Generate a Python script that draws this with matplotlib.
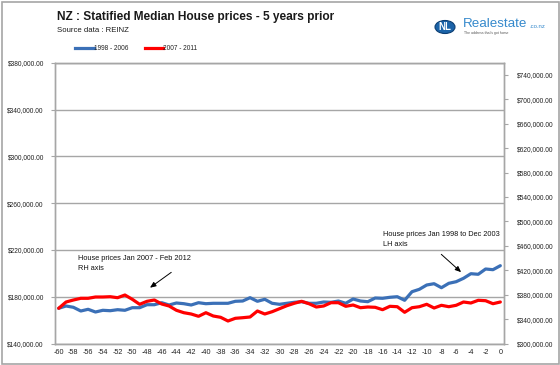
import matplotlib
matplotlib.use("Agg")
import matplotlib.pyplot as plt
from matplotlib.patches import Circle, Rectangle
from matplotlib.ticker import FuncFormatter

plt.rcParams["axes.unicode_minus"] = False

# ---- data ----
months = list(range(-60, 1))
prices_1998_2006 = [170100, 172050, 170940, 167780, 169230, 166920, 168380, 168030, 168890, 168380,
                    170600, 170600, 173160, 173160, 174870, 172910, 174620, 174020, 172910, 174870,
                    174020, 174360, 174360, 174360, 176070, 176320, 179150, 176070, 177780, 174360,
                    173500, 174360, 175210, 175730, 174360, 174360, 175470, 175210, 176320, 174360,
                    178030, 176320, 175730, 178890, 178630, 179490, 180000, 176920, 184270, 186320,
                    190000, 191110, 187690, 191450, 192820, 195730, 199660, 199150, 203680, 203080,
                    206500]
prices_2007_2011 = [357660, 367980, 371250, 374040, 374040, 376170, 376170, 376660, 375020, 379440,
                    372400, 364210, 369120, 371250, 364700, 361430, 354380, 350450, 348320, 344550,
                    350450, 345050, 342920, 336860, 341280, 342260, 343410, 353240, 348320, 352090,
                    357000, 361920, 365850, 369120, 365190, 359790, 361430, 366830, 366830, 360930,
                    363060, 358640, 359790, 359300, 355360, 360930, 360280, 351110, 358640, 360280,
                    364210, 358150, 362570, 360280, 362570, 367980, 366340, 370760, 370110, 365190,
                    367980]
left_ticks = [140000, 180000, 220000, 260000, 300000, 340000, 380000]
right_ticks = list(range(300000, 740001, 40000))
x_ticks = list(range(-60, 1, 2))
series_names = ["1998 - 2006", "2007 - 2011"]

FONT = "Liberation Sans"
W, H = 560, 365
fig = plt.figure(figsize=(W / 100, H / 100), dpi=100)
fig.patch.set_facecolor("white")

# outer border
fig.add_artist(Rectangle((1.5 / W, 1.5 / H), (W - 3) / W, (H - 3) / H, transform=fig.transFigure,
                         fill=False, edgecolor="#a6a6a6", lw=1.2))

ax = fig.add_axes([55 / W, 1 - 343.5 / H, (504 - 55) / W, (343.5 - 62.7) / H])
ax2 = ax.twinx()

blue = "#3b70b7"
red = "#ff0000"
grid = "#a6a6a6"

ax.plot(months, prices_1998_2006, color=blue, lw=2.3, solid_capstyle="round", solid_joinstyle="round", zorder=3)
ax2.plot(months, prices_2007_2011, color=red, lw=2.3, solid_capstyle="round", solid_joinstyle="round", zorder=3)

ax.set_xlim(-60.5, 0.5)
ax.set_ylim(140000, 380000)
ax2.set_ylim(300000, 760000)
ax.set_yticks(left_ticks)
ax2.set_yticks(right_ticks)
ax.set_xticks(x_ticks)

fmt = FuncFormatter(lambda v, p: "${:,.2f}".format(v))
ax.yaxis.set_major_formatter(fmt)
ax2.yaxis.set_major_formatter(fmt)

ax.grid(axis="y", color=grid, lw=1.0)
ax.set_axisbelow(True)
for a in (ax, ax2):
    for s in a.spines.values():
        s.set_color(grid)
        s.set_linewidth(1.0)
    a.tick_params(colors=grid, length=3, width=0.8, labelcolor="#222222", labelsize=4.8)
    for lab in a.get_yticklabels() + a.get_xticklabels():
        lab.set_fontfamily(FONT)
ax.tick_params(axis="x", labelsize=5.2, pad=4, length=0)
ax.tick_params(axis="y", pad=5)
ax2.tick_params(axis="y", pad=6)
ax.patch.set_visible(False)
ax2.set_zorder(ax.get_zorder() + 1)
ax2.patch.set_visible(False)

# annotations
ax.annotate("", xy=(-47.9, 186300), xytext=(-44.4, 202200),
            arrowprops=dict(arrowstyle="-|>,head_length=0.35,head_width=0.15", color="black", lw=0.7))
ax.text(-57.4, 208200, "House prices Jan 2007 - Feb 2012\nRH axis", fontsize=5.3, family=FONT,
        ha="left", va="center", linespacing=1.6, color="#111111")
ax.annotate("", xy=(-5.05, 199400), xytext=(-8.3, 217800),
            arrowprops=dict(arrowstyle="-|>,head_length=0.35,head_width=0.15", color="black", lw=0.7))
ax.text(-15.9, 229300, "House prices Jan 1998 to Dec 2003\nLH axis", fontsize=5.3, family=FONT,
        ha="left", va="center", linespacing=1.6, color="#111111")

# title and subtitle
fig.text(57 / W, 1 - 17 / H, "NZ : Statified Median House prices - 5 years prior", fontsize=8.6,
         fontweight="bold", family=FONT, ha="left", va="center", color="#1a1a1a")
fig.text(57 / W, 1 - 31 / H, "Source data : REINZ", fontsize=5.6, family=FONT, ha="left", va="center",
         color="#1a1a1a")

# legend
fig.add_artist(plt.Line2D([75 / W, 94 / W], [1 - 48 / H] * 2, color=blue, lw=2.3, transform=fig.transFigure))
fig.text(94 / W, 1 - 48 / H, series_names[0], fontsize=4.7, family=FONT, ha="left", va="center", color="#222222")
fig.add_artist(plt.Line2D([145 / W, 163 / W], [1 - 48 / H] * 2, color=red, lw=2.3, transform=fig.transFigure))
fig.text(163 / W, 1 - 48 / H, series_names[1], fontsize=4.7, family=FONT, ha="left", va="center", color="#222222")

# logo
fig.add_artist(Circle((445 / W, 1 - 27 / H), 10 / W, transform=fig.transFigure, facecolor="#1b63a8",
                      edgecolor="#0d3f73", lw=0.8))
fig.text(445 / W, 1 - 27.5 / H, "NL", fontsize=7, fontweight="bold", family=FONT, color="white",
         ha="center", va="center")
fig.text(463 / W, 1 - 24 / H, "Realestate", fontsize=9.6, family=FONT, color="#3589cc", ha="left", va="center")
fig.text(529 / W, 1 - 26 / H, ".co.nz", fontsize=4.3, family=FONT, color="#3589cc", ha="left", va="center")
fig.text(464 / W, 1 - 33 / H, "The address that's got home", fontsize=2.5, family=FONT, color="#555555",
         ha="left", va="center")

fig.savefig("out.png", dpi=100)
